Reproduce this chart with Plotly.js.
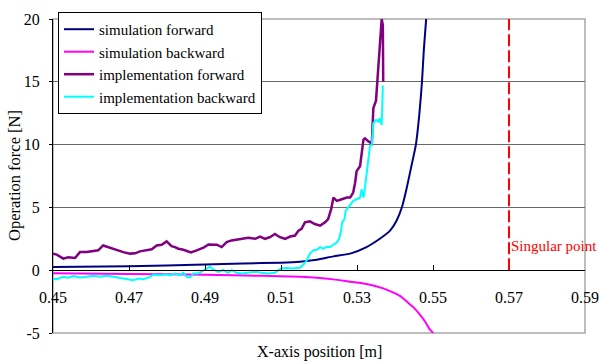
<!DOCTYPE html>
<html>
<head>
<meta charset="utf-8">
<script src="https://cdn.plot.ly/plotly-3.0.1.min.js"></script>
<style>html,body{margin:0;padding:0;background:#fff;}#chart{width:599px;height:363px;}</style>
</head>
<body>
<div id="chart"></div>
<script>
var xTicks = [0.45, 0.47, 0.49, 0.51, 0.53, 0.55, 0.57, 0.59];
var yTicks = [-5, 0, 5, 10, 15, 20];
var singularX = 0.57;
var singularLabel = "Singular point";

var simFwdX = [0.45,0.47,0.49,0.50,0.51,0.515,0.5194,0.5238,0.5282,0.5325,0.536,0.5387,0.5404,0.5418,0.5431,0.5444,0.5455,0.5464,0.5471,0.5476,0.5482];
var simFwdY = [0.26,0.32,0.45,0.54,0.6,0.68,0.84,1.1,1.32,1.84,2.5,3.15,3.94,4.99,6.57,8.41,10.0,12.4,15.0,17.6,20.0];

var simBwdX = [0.45,0.47,0.49,0.505,0.515,0.5194,0.5238,0.5282,0.5325,0.5369,0.5396,0.5413,0.5431,0.5448,0.5466,0.5479,0.5492,0.5501];
var simBwdY = [-0.25,-0.3,-0.36,-0.45,-0.53,-0.6,-0.73,-0.92,-1.1,-1.45,-1.79,-2.05,-2.5,-2.94,-3.55,-4.08,-4.73,-5.0];

var impFwdX = [0.45,0.451,0.4527,0.454,0.4558,0.4571,0.4589,0.4606,0.4619,0.4632,0.4646,0.4668,0.4685,0.4703,0.4716,0.4729,0.4747,0.476,0.4773,0.4786,0.4799,0.4812,0.4821,0.483,0.4843,0.4863,0.4878,0.4896,0.4909,0.4922,0.4931,0.4944,0.4957,0.497,0.4983,0.4997,0.5014,0.5032,0.5045,0.5058,0.5071,0.5084,0.5097,0.5111,0.5124,0.5137,0.5146,0.5154,0.5163,0.5176,0.5189,0.5203,0.5216,0.5224,0.5232,0.5238,0.5247,0.526,0.5273,0.5282,0.529,0.5295,0.5299,0.5308,0.5311,0.5317,0.5321,0.533,0.5339,0.5343,0.535,0.5356,0.536,0.5365,0.5368,0.5369];
var impFwdY = [1.32,1.24,0.92,1.03,0.97,1.44,1.44,1.55,1.58,1.97,1.84,1.58,1.44,1.32,1.34,1.5,1.58,1.66,1.97,2.03,2.29,1.92,1.84,1.71,1.63,1.42,1.58,1.79,2.05,2.03,2.03,1.84,2.23,2.37,2.42,2.5,2.58,2.5,2.68,2.5,2.63,2.89,2.63,2.5,2.68,2.76,3.15,3.29,3.81,3.89,3.68,3.55,3.81,4.07,4.86,5.78,5.52,5.65,5.78,5.78,6.18,6.96,7.89,8.28,8.94,10.4,10.5,10.25,10.1,12.9,13.5,15.8,17.9,20,19.5,15];

var impBwdX = [0.45,0.451,0.4527,0.454,0.4553,0.4571,0.4589,0.4606,0.4624,0.4641,0.4659,0.4676,0.4694,0.4711,0.4725,0.4738,0.4755,0.4764,0.4773,0.4786,0.4795,0.4808,0.4821,0.4834,0.4843,0.4852,0.4861,0.4869,0.4882,0.4896,0.4904,0.4913,0.4922,0.4935,0.4948,0.4961,0.497,0.4983,0.4997,0.5014,0.5032,0.5049,0.5067,0.5084,0.5093,0.5102,0.5115,0.5128,0.5141,0.515,0.5159,0.5168,0.5176,0.5185,0.5194,0.5203,0.5211,0.522,0.5229,0.5238,0.5247,0.5253,0.5258,0.5261,0.5267,0.527,0.5276,0.5282,0.529,0.5299,0.5308,0.5312,0.5317,0.5321,0.5325,0.533,0.5334,0.5339,0.5343,0.535,0.5356,0.536,0.5365,0.5368];
var impBwdY = [-0.7,-0.71,-0.53,-0.6,-0.47,-0.58,-0.53,-0.45,-0.53,-0.45,-0.53,-0.6,-0.71,-0.79,-0.66,-0.71,-0.53,-0.34,-0.39,-0.39,-0.32,-0.39,-0.26,-0.39,-0.21,-0.53,-0.58,-0.26,-0.26,-0.05,0.13,0.26,0.05,-0.13,0,-0.21,0,-0.21,-0.26,-0.21,-0.13,-0.21,-0.26,-0.21,0,0.13,0.18,0.13,0.18,0.2,0.45,0.79,1.32,1.58,1.63,1.84,1.71,1.84,1.84,2.05,2.23,2.5,3.15,3.81,4.07,4.73,4.99,5.26,5.52,5.65,5.78,6.44,5.78,6.57,7.63,8.68,9.86,10.0,11.7,11.96,11.83,12.1,11.57,14.7];

var serif = "Liberation Serif, Times New Roman, serif";

var traces = [
  {x: simFwdX, y: simFwdY, name: "simulation forward", mode: "lines", line: {color: "#000080", width: 2, shape: "spline", smoothing: 0.6}},
  {x: simBwdX, y: simBwdY, name: "simulation backward", mode: "lines", line: {color: "#FF00FF", width: 2, shape: "spline", smoothing: 0.6}},
  {x: impFwdX, y: impFwdY, name: "implementation forward", mode: "lines", line: {color: "#800080", width: 2.5}},
  {x: impBwdX, y: impBwdY, name: "implementation backward", mode: "lines", line: {color: "#00FFFF", width: 2}}
];

var layout = {
  width: 599, height: 363,
  margin: {l: 53, r: 14, t: 16, b: 30},
  paper_bgcolor: "#ffffff", plot_bgcolor: "#ffffff",
  font: {family: serif, size: 16, color: "#000"},
  showlegend: true,
  legend: {x: 0.0094, y: 0.86, xanchor: "left", yanchor: "middle", bgcolor: "#ffffff",
           bordercolor: "#000000", borderwidth: 1, font: {family: serif, size: 15, color: "#000"},
           tracegroupgap: 0},
  xaxis: {range: [0.45, 0.59], tickvals: xTicks, ticktext: xTicks.map(function(v){return v.toFixed(2);}),
          anchor: "free", position: 0.2, showline: true, linecolor: "#000", linewidth: 1,
          ticks: "inside", ticklen: 5, tickcolor: "#000", showgrid: false, zeroline: false,
          ticklabelstandoff: 13, tickfont: {family: serif, size: 16, color: "#000"}},
  yaxis: {range: [-5, 20], tickvals: yTicks, ticktext: yTicks.map(String), showline: true, linecolor: "#000",
          linewidth: 1, ticks: "outside", ticklen: 3, tickcolor: "#000", showgrid: true, gridcolor: "#6a6a6a",
          gridwidth: 1, zeroline: false, ticklabelstandoff: 6, tickfont: {family: serif, size: 16, color: "#000"}},
  shapes: [
    {type: "rect", xref: "paper", yref: "paper", x0: 0, x1: 1, y0: 0, y1: 1, layer: "below",
     line: {color: "#a8a8a8", width: 1.5}},
    {type: "line", xref: "x", yref: "y", x0: singularX, x1: singularX, y0: 0, y1: 20,
     line: {color: "#FF0000", width: 2, dash: "12px,4px"}}
  ],
  annotations: [
    {xref: "x", yref: "y", x: singularX, y: 1.9, text: singularLabel, showarrow: false, xanchor: "left",
     yanchor: "middle", xshift: 0, font: {family: serif, size: 15, color: "#FF0000"}},
    {xref: "paper", yref: "paper", x: 0.5, y: 0, yshift: -19, text: "X-axis position [m]", showarrow: false,
     xanchor: "center", yanchor: "middle", font: {family: serif, size: 16, color: "#000"}},
    {xref: "paper", yref: "paper", x: 0, y: 0.5, xshift: -39, text: "Operation force [N]", showarrow: false,
     textangle: -90, xanchor: "center", yanchor: "middle", font: {family: serif, size: 16.5, color: "#000"}}
  ]
};

Plotly.newPlot("chart", traces, layout, {displayModeBar: false, staticPlot: true});
</script>
</body>
</html>
